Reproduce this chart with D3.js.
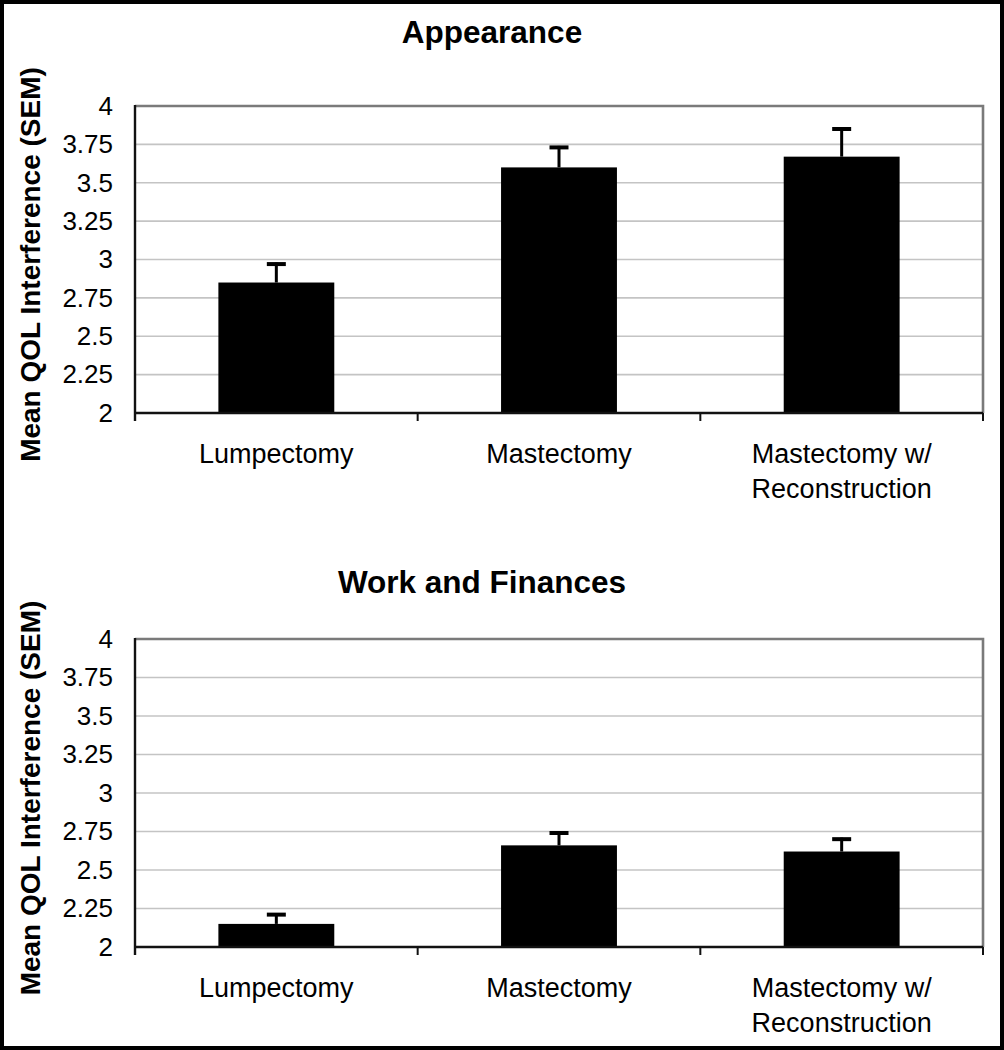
<!DOCTYPE html>
<html><head><meta charset="utf-8">
<script src="https://cdn.jsdelivr.net/npm/d3@7"></script>
<style>
html,body{margin:0;padding:0;background:#fff;}
svg{display:block;font-family:"Liberation Sans",Arial,Helvetica,sans-serif;}
</style></head>
<body>
<svg id="chart" width="1004" height="1050"></svg>
<script>
const categories = ["Lumpectomy", "Mastectomy", "Mastectomy w/\nReconstruction"];
const panelTitles = ["Appearance", "Work and Finances"];
const appearanceMeans = [2.85, 3.60, 3.67];
const appearanceSEM = [0.13, 0.14, 0.19];
const workMeans = [2.15, 2.66, 2.62];
const workSEM = [0.07, 0.09, 0.09];
const yTicks = [2, 2.25, 2.5, 2.75, 3, 3.25, 3.5, 3.75, 4];
const yTickLabels = ["2", "2.25", "2.5", "2.75", "3", "3.25", "3.5", "3.75", "4"];
const yAxisTitle = "Mean QOL Interference (SEM)";

const svg = d3.select("#chart");
svg.append("rect").attr("x", 2).attr("y", 2).attr("width", 1000).attr("height", 1046)
  .attr("fill", "#fff").attr("stroke", "#000").attr("stroke-width", 4);

const panels = [
  {title: panelTitles[0], means: appearanceMeans, sem: appearanceSEM, top: 106, bottom: 413, titleY: 43, titleX: 492},
  {title: panelTitles[1], means: workMeans, sem: workSEM, top: 639, bottom: 947, titleY: 593, titleX: 482}
];
const left = 135, right = 983;

panels.forEach(p => {
  const g = svg.append("g");
  const x = d3.scaleBand().domain(categories).range([left, right]).padding(0);
  const y = d3.scaleLinear().domain([2, 4]).range([p.bottom, p.top]);
  const barW = x.bandwidth() * 0.41;

  // gridlines
  g.selectAll(".grid").data(yTicks.filter(t => t > 2 && t < 4)).enter().append("line")
    .attr("x1", left).attr("x2", right)
    .attr("y1", d => y(d)).attr("y2", d => y(d))
    .attr("stroke", "#c4c4c4").attr("stroke-width", 1.6);

  // top and right border (gray)
  g.append("path")
    .attr("d", `M${left},${y(4)}H${right}V${y(2)}`)
    .attr("fill", "none").attr("stroke", "#7a7a7a").attr("stroke-width", 2.6);

  // bars
  g.selectAll(".bar").data(categories).enter().append("rect")
    .attr("x", (d) => x(d) + x.bandwidth() / 2 - barW / 2)
    .attr("y", (d, i) => y(p.means[i]))
    .attr("width", barW)
    .attr("height", (d, i) => y(2) - y(p.means[i]))
    .attr("fill", "#000");

  // error bars
  g.selectAll(".err").data(categories).enter().append("line")
    .attr("x1", d => x(d) + x.bandwidth() / 2).attr("x2", d => x(d) + x.bandwidth() / 2)
    .attr("y1", (d, i) => y(p.means[i]))
    .attr("y2", (d, i) => y(p.means[i] + p.sem[i]))
    .attr("stroke", "#000").attr("stroke-width", 3);
  g.selectAll(".cap").data(categories).enter().append("line")
    .attr("x1", d => x(d) + x.bandwidth() / 2 - 9.5).attr("x2", d => x(d) + x.bandwidth() / 2 + 9.5)
    .attr("y1", (d, i) => y(p.means[i] + p.sem[i]) + 1.5)
    .attr("y2", (d, i) => y(p.means[i] + p.sem[i]) + 1.5)
    .attr("stroke", "#000").attr("stroke-width", 4);

  // y axis
  const yAxis = d3.axisLeft(y).tickValues(yTicks)
    .tickFormat((d, i) => yTickLabels[i]).tickSize(0).tickPadding(22);
  const ya = g.append("g").attr("transform", `translate(${left},0)`).call(yAxis);
  ya.select(".domain").remove();
  ya.selectAll("text").attr("font-size", 26).attr("fill", "#000")
    .attr("font-family", "'Liberation Sans',Arial,sans-serif");
  g.append("line").attr("x1", left).attr("x2", left).attr("y1", y(4) - 1).attr("y2", y(2) + 8)
    .attr("stroke", "#111").attr("stroke-width", 2.4);

  // x axis
  g.append("line").attr("x1", left).attr("x2", right).attr("y1", y(2)).attr("y2", y(2))
    .attr("stroke", "#111").attr("stroke-width", 2.4);
  g.selectAll(".xtick").data(categories.slice(1).concat([null])).enter().append("line")
    .attr("x1", d => d === null ? right : x(d)).attr("x2", d => d === null ? right : x(d))
    .attr("y1", y(2)).attr("y2", y(2) + 8)
    .attr("stroke", "#111").attr("stroke-width", 2);

  // category labels
  categories.forEach(c => {
    const lines = c.split("\n");
    const t = g.append("text").attr("text-anchor", "middle")
      .attr("font-size", 27).attr("fill", "#000")
      .attr("x", x(c) + x.bandwidth() / 2).attr("y", y(2) + 50);
    lines.forEach((ln, k) => {
      t.append("tspan").attr("x", x(c) + x.bandwidth() / 2).attr("dy", k === 0 ? 0 : 35).text(ln);
    });
  });

  // title
  g.append("text").attr("x", p.titleX).attr("y", p.titleY).attr("text-anchor", "middle")
    .attr("font-size", 31.5).attr("font-weight", "bold").attr("fill", "#000").text(p.title);

  // y axis title
  g.append("text")
    .attr("transform", `translate(40,${(y(2) + y(4)) / 2 + 5}) rotate(-90)`)
    .attr("text-anchor", "middle").attr("font-size", 28).attr("font-weight", "bold")
    .attr("fill", "#000").text(yAxisTitle);
});
</script>
</body></html>
